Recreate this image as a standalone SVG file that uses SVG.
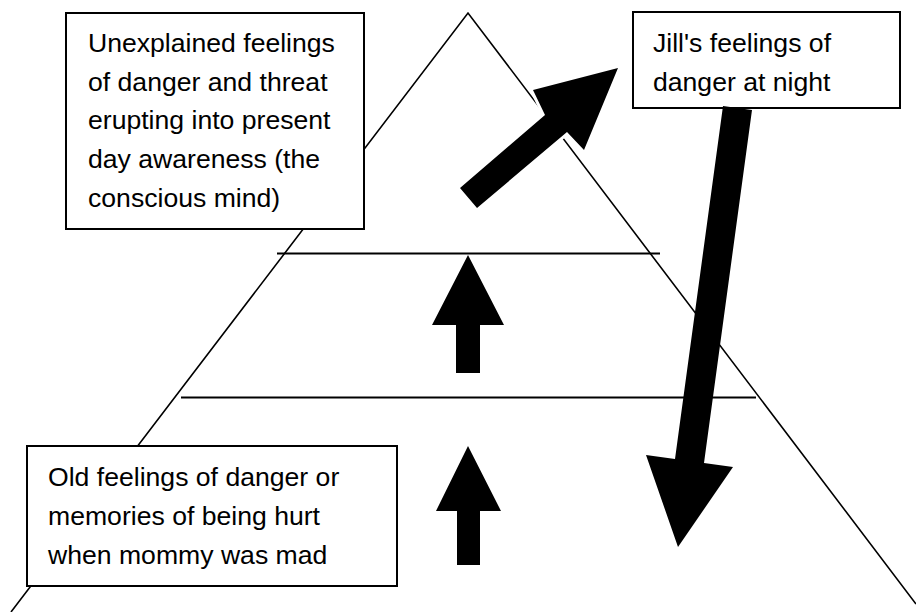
<svg xmlns="http://www.w3.org/2000/svg" width="916" height="612" viewBox="0 0 916 612">
<style>
.ln{stroke:#000;stroke-width:1.6;fill:none}
.hl{stroke:#000;stroke-width:2;fill:none}
.box{fill:#fff;stroke:#000;stroke-width:2}
.t{font-family:"Liberation Sans",Arial,sans-serif;font-size:26.6px;fill:#000}
.arr{fill:#000}
</style>
<rect width="916" height="612" fill="#fff"/>
<g id="pyramid">
<polyline class="ln" points="11,612 468,13 916,604"/>
<line class="hl" x1="277" y1="253.5" x2="660" y2="253.5"/>
<line class="hl" x1="181" y1="397.5" x2="756" y2="397.5"/>
</g>
<g id="connectors">
<polygon class="arr" points="468,255 504,325 480,325 480,373 456,373 456,325 432,325"/>
<polygon class="arr" points="468,446 501,511 480,511 480,565 457,565 457,511 436,511"/>
<polygon class="arr" points="460,188 545,115 533,90 618,68 584,150 567,132 477,208" stroke="#fff" stroke-width="6" stroke-linejoin="miter" paint-order="stroke"/>
</g>
<g id="box-conscious">
<rect class="box" x="66" y="13" width="298" height="216"/>
<text class="t" x="88" y="52">Unexplained feelings</text>
<text class="t" x="88" y="90.7">of danger and threat</text>
<text class="t" x="88" y="129.4">erupting into present</text>
<text class="t" x="88" y="168.1">day awareness (the</text>
<text class="t" x="88" y="206.8">conscious mind)</text>
</g>
<g id="box-jill">
<rect class="box" x="633" y="12" width="267" height="96"/>
<text class="t" x="653" y="52">Jill's feelings of</text>
<text class="t" x="653" y="90.7">danger at night</text>
</g>
<g id="box-old">
<rect class="box" x="27" y="446" width="370" height="140"/>
<text class="t" x="48" y="485.7">Old feelings of danger or</text>
<text class="t" x="48" y="524.7">memories of being hurt</text>
<text class="t" x="48" y="563.7">when mommy was mad</text>
</g>
<g id="arrow-down">
<polygon class="arr" points="723,106 752,110 704,463 733,467 678,547 646,455 675,459"/>
</g>
</svg>
